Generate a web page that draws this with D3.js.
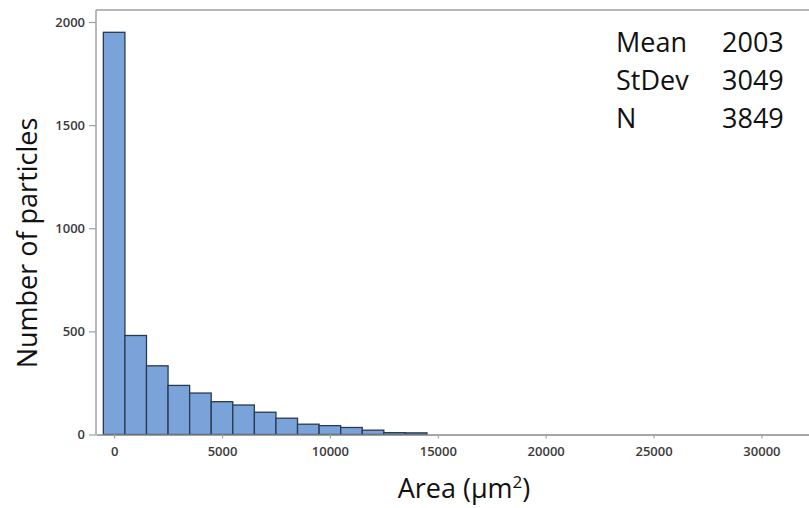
<!DOCTYPE html>
<html>
<head>
<meta charset="utf-8">
<script src="https://cdn.jsdelivr.net/npm/d3@7"></script>
<style>
  body { margin: 0; background: #fff; }
  svg { display: block; }
</style>
</head>
<body>
<div id="chart"></div>
<script>
// histogram bins (centre of bin, width 1000)
const binCentres = [0, 1000, 2000, 3000, 4000, 5000, 6000, 7000, 8000, 9000, 10000,
  11000, 12000, 13000, 14000];
const counts = [1950, 480, 333, 238, 201, 159, 143, 108, 79, 50, 43,
  34, 21, 9, 8];
const xTicks = [0, 5000, 10000, 15000, 20000, 25000, 30000];
const yTicks = [0, 500, 1000, 1500, 2000];
const statLabels = ['Mean', 'StDev', 'N'];
const statValues = ['2003', '3049', '3849'];
const binWidth = 1000;

const W = 809, H = 508;
const margin = { top: 10, right: -15, bottom: 73, left: 96 };

const svg = d3.select('#chart').append('svg')
  .attr('width', W)
  .attr('height', H);

const x = d3.scaleLinear()
  .domain([-840, 32900])
  .range([margin.left, W - margin.right]);

const y = d3.scaleLinear()
  .domain([0, 2000])
  .range([434.5, 22]);

// frame (top line)
svg.append('line')
  .attr('x1', margin.left).attr('x2', W + 20)
  .attr('y1', margin.top).attr('y2', margin.top)
  .attr('stroke', '#a0a0a0').attr('stroke-width', 1.5);

// bars
svg.append('g').selectAll('rect')
  .data(binCentres.map((c, i) => ({ c: c, n: counts[i] })).filter(d => d.n > 0))
  .enter().append('rect')
  .attr('x', d => x(d.c - binWidth / 2))
  .attr('width', d => x(d.c + binWidth / 2) - x(d.c - binWidth / 2))
  .attr('y', d => y(d.n))
  .attr('height', d => y(0) - y(d.n))
  .attr('fill', '#7aa3da')
  .attr('stroke', '#2b3a4e')
  .attr('stroke-width', 1.3);

// y axis
const yAxis = svg.append('g')
  .attr('transform', `translate(${margin.left},0)`)
  .call(d3.axisLeft(y).tickValues(yTicks).tickFormat(d3.format('d'))
    .tickSize(7).tickPadding(4).tickSizeOuter(0));
yAxis.select('.domain').remove();
yAxis.append('line')
  .attr('x1', 0).attr('x2', 0)
  .attr('y1', margin.top).attr('y2', y(0))
  .attr('stroke', '#a0a0a0').attr('stroke-width', 1.5);

// x axis
const xAxis = svg.append('g')
  .attr('transform', `translate(0,${y(0)})`)
  .call(d3.axisBottom(x).tickValues(xTicks).tickFormat(d3.format('d'))
    .tickSize(4).tickPadding(8).tickSizeOuter(0));
xAxis.select('.domain')
  .attr('stroke', '#8a8a8a').attr('stroke-width', 1.5);

svg.selectAll('.tick line').attr('stroke', '#a0a0a0').attr('stroke-width', 1.2);
svg.selectAll('.tick text')
  .attr('fill', '#3a3a3a')
  .style('font-family', '"Open Sans", sans-serif')
  .style('font-weight', 600)
  .style('font-size', '13px');

// axis titles
svg.append('text')
  .attr('transform', 'translate(37,243) rotate(-90)')
  .attr('text-anchor', 'middle')
  .style('font-family', '"Open Sans", sans-serif')
  .style('font-size', '27px')
  .attr('fill', '#111')
  .text('Number of particles');

svg.append('text')
  .attr('x', 464).attr('y', 498)
  .attr('text-anchor', 'middle')
  .style('font-family', '"Open Sans", sans-serif')
  .style('font-size', '27px')
  .attr('fill', '#111')
  .html('Area (µm<tspan dy="-10" font-size="17px">2</tspan><tspan dy="10">)</tspan>');

// stats box
const stats = svg.append('g')
  .style('font-family', '"Open Sans", sans-serif')
  .style('font-size', '27px')
  .attr('fill', '#111');
statLabels.forEach((s, i) => {
  stats.append('text').attr('x', 616).attr('y', 52 + i * 38).text(s);
  stats.append('text').attr('x', 722).attr('y', 52 + i * 38).text(statValues[i]);
});
</script>
</body>
</html>
